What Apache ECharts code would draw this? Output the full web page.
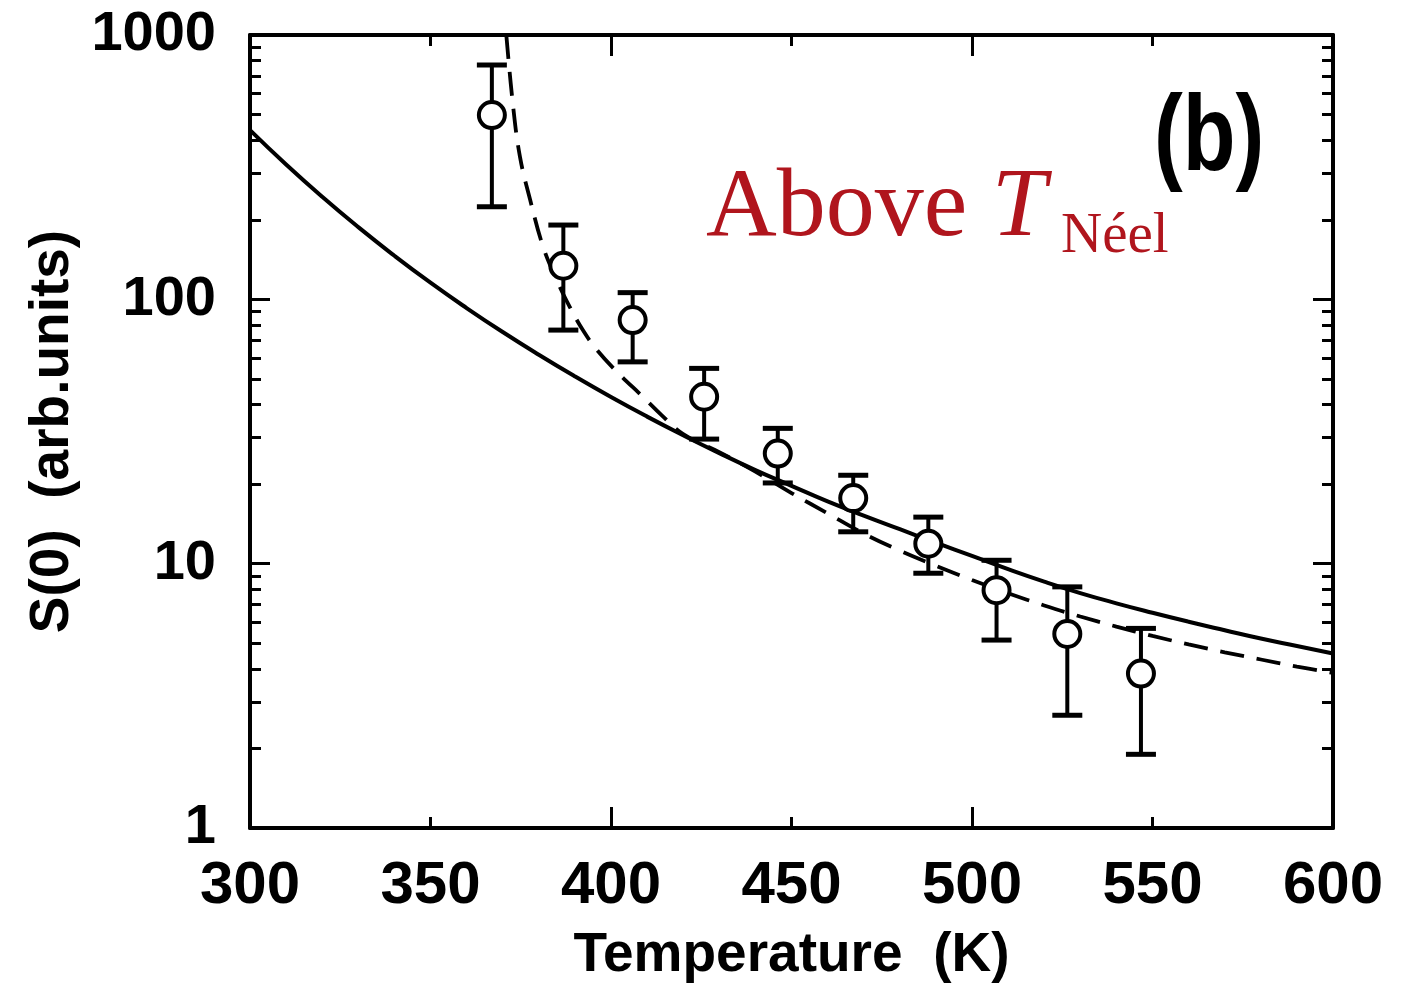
<!DOCTYPE html>
<html>
<head>
<meta charset="utf-8">
<script src="https://cdn.jsdelivr.net/npm/echarts@6/dist/echarts.min.js"></script>
<style>
  html, body { margin: 0; padding: 0; background: #ffffff; }
  #chart { width: 1409px; height: 985px; }
</style>
</head>
<body>
<div id="chart"></div>
<script>
// Measured structure factor S(0) versus temperature, with error bars
const temperature = [367.0, 386.8, 406.0, 425.8, 446.2, 467.1, 487.9, 506.8, 526.4, 546.8];
const s0          = [498,   134,   83.5,  42.8,  26.1,  17.7,  11.9,  7.94,  5.42,  3.84];
const s0Lower     = [224,   76.5,  58,    29.6,  20.2,  13.2,  9.2,   5.14,  2.67,  1.9];
const s0Upper     = [770,   191,   106,   54.8,  32.5,  21.6,  15.0,  10.3,  8.17,  5.69];

// Model curve (solid)
const solidT = [300, 310, 320, 330, 340, 350, 360, 370, 380, 390, 400, 410, 420, 430, 440, 450,
                460, 470, 480, 490, 500, 510, 520, 530, 540, 550, 560, 570, 580, 590, 600];
const solidS = [436.5, 323.6, 244.3, 187.5, 146.2, 115.6, 92.7, 75.2, 61.7, 51.1, 42.7, 36.0, 30.6, 26.2, 22.6, 19.7,
                17.2, 15.2, 13.5, 12.0, 10.7, 9.53, 8.55, 7.74, 7.08, 6.52, 6.03, 5.60, 5.21, 4.88, 4.57];

// Model curve (dashed)
const dashedT = [371, 372.9, 374.8, 377.6, 381.2, 385, 388.6, 392.2, 396, 401.7, 408.9, 414, 420, 430, 440, 450,
                 460, 470, 480, 490, 500, 510, 520, 530, 540, 550, 560, 570, 580, 590, 600];
const dashedS = [1000, 535, 345, 238, 158, 118, 93.5, 76.5, 64.6, 53.1, 42.7, 36.5, 30.9, 26.4, 22.3, 18.5,
                 15.5, 13.0, 11.2, 9.82, 8.67, 7.73, 6.95, 6.31, 5.78, 5.33, 4.95, 4.62, 4.34, 4.08, 3.86];

// Axis ticks
const xTicks = [300, 350, 400, 450, 500, 550, 600];
const xMajorTicks = [400, 500];
const xMinorTicks = [350, 450, 550];
const yTicks = [1, 10, 100, 1000];
const yMinorTicks = [2, 3, 4, 5, 6, 7, 8, 9, 20, 30, 40, 50, 60, 70, 80, 90, 200, 300, 400, 500, 600, 700, 800, 900];

const SANS = "'Liberation Sans', Arial, sans-serif";
const SERIF = "'Liberation Serif', 'DejaVu Serif', serif";
const INK = '#000000';
const RED = '#b0151d';

const chart = echarts.init(document.getElementById('chart'), null, { renderer: 'canvas' });

const frameLine = { show: true, lineStyle: { color: INK, width: 4 } };

function xAxisDef(position, ticks, len, withLabels) {
  return {
    type: 'value', position: position, min: 300, max: 600, interval: 50,
    axisLine: (position === 'bottom' && withLabels) || (position === 'top' && len > 15) ? frameLine : { show: false },
    axisTick: { show: true, inside: true, length: len, customValues: ticks, lineStyle: { color: INK, width: 3 } },
    axisLabel: withLabels ? {
      show: true, customValues: xTicks, margin: 28, color: INK,
      fontFamily: SANS, fontWeight: 'bold', fontSize: 60,
      formatter: v => String(v)
    } : { show: false },
    splitLine: { show: false },
    name: withLabels ? 'Temperature  (K)' : '',
    nameLocation: 'middle', nameGap: 100,
    nameTextStyle: { color: INK, fontFamily: SANS, fontWeight: 'bold', fontSize: 55 }
  };
}

function yAxisDef(position, ticks, len, withLabels) {
  return {
    type: 'log', logBase: 10, position: position, min: 1, max: 1000,
    axisLine: len > 15 ? frameLine : { show: false },
    axisTick: { show: true, inside: true, length: len, customValues: ticks, lineStyle: { color: INK, width: 3 } },
    axisLabel: withLabels ? {
      show: true, customValues: yTicks, margin: 34, color: INK,
      fontFamily: SANS, fontWeight: 'bold', fontSize: 56,
      formatter: v => String(Math.round(v))
    } : { show: false },
    splitLine: { show: false },
    name: withLabels ? 'S(0)  (arb.units)' : '',
    nameLocation: 'middle', nameGap: 150,
    nameTextStyle: { color: INK, fontFamily: SANS, fontWeight: 'bold', fontSize: 55 }
  };
}

const errorBars = temperature.map((t, i) => [t, s0Lower[i], s0Upper[i], s0[i]]);

chart.setOption({
  backgroundColor: '#ffffff',
  animation: false,
  grid: { left: 250, top: 35, width: 1083, height: 793, containLabel: false, outerBoundsMode: 'none' },
  xAxis: [
    xAxisDef('bottom', xMajorTicks, 21, true),
    xAxisDef('bottom', xMinorTicks, 11, false),
    xAxisDef('top', xMajorTicks, 21, false),
    xAxisDef('top', xMinorTicks, 11, false)
  ],
  yAxis: [
    yAxisDef('left', yTicks, 20, true),
    yAxisDef('left', yMinorTicks, 11, false),
    yAxisDef('right', yTicks, 20, false),
    yAxisDef('right', yMinorTicks, 11, false)
  ],
  series: [
    {
      name: 'solid', type: 'line', smooth: 0.5, showSymbol: false, clip: true,
      data: solidT.map((t, i) => [t, solidS[i]]),
      lineStyle: { color: INK, width: 4 }
    },
    {
      name: 'dashed', type: 'line', smooth: 0.4, showSymbol: false, clip: true,
      data: dashedT.map((t, i) => [t, dashedS[i]]),
      lineStyle: { color: INK, width: 3.8, type: [24, 13] }
    },
    {
      name: 'errors', type: 'custom', clip: true,
      data: errorBars,
      renderItem: function (params, api) {
        const x = api.value(0);
        const lo = api.coord([x, api.value(1)]);
        const hi = api.coord([x, api.value(2)]);
        const half = 15;
        const capStyle = { stroke: INK, lineWidth: 5 };
        return {
          type: 'group',
          children: [
            { type: 'line', shape: { x1: lo[0], y1: lo[1], x2: hi[0], y2: hi[1] }, style: { stroke: INK, lineWidth: 4 } },
            { type: 'line', shape: { x1: hi[0] - half, y1: hi[1], x2: hi[0] + half, y2: hi[1] }, style: capStyle },
            { type: 'line', shape: { x1: lo[0] - half, y1: lo[1], x2: lo[0] + half, y2: lo[1] }, style: capStyle }
          ]
        };
      },
      z: 3
    },
    {
      name: 'S(0)', type: 'scatter',
      data: temperature.map((t, i) => [t, s0[i]]),
      symbol: 'circle', symbolSize: 26,
      itemStyle: { color: '#ffffff', borderColor: INK, borderWidth: 4, opacity: 1 },
      z: 4
    }
  ],
  graphic: [
    {
      type: 'text', left: 1154, top: 86, z: 10, scaleX: 0.8,
      style: { text: '(b)', fontFamily: SANS, fontWeight: 'bold', fontSize: 108, fill: INK }
    },
    {
      type: 'text', left: 706, top: 160, z: 10,
      style: {
        text: '{a|Above }{t|T}',
        rich: {
          a: { fontFamily: SERIF, fontSize: 98, fill: RED, fontStyle: 'normal' },
          t: { fontFamily: SERIF, fontSize: 98, fill: RED, fontStyle: 'italic' }
        }
      }
    },
    {
      type: 'text', left: 1061, top: 209, z: 10,
      style: { text: 'Néel', fontFamily: SERIF, fontSize: 57, fill: RED }
    }
  ]
});
</script>
</body>
</html>
